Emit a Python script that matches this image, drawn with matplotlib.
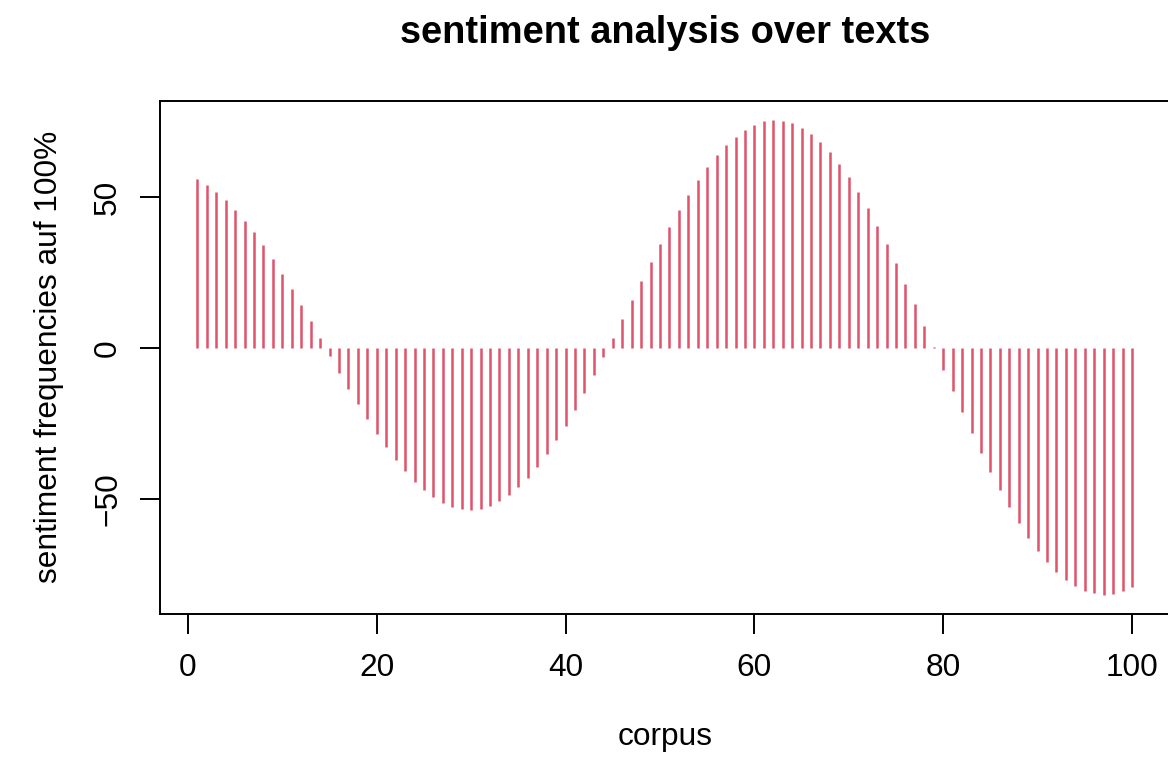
import numpy as np
import matplotlib
matplotlib.use("Agg")
import matplotlib.pyplot as plt

plt.rcParams['font.family'] = ['Liberation Sans', 'DejaVu Sans']

# sentiment score per text in the corpus
corpus = np.arange(1, 101)
sentiment = np.array([
    55.9, 54.1, 51.7, 48.9, 45.7, 42.2, 38.3, 34.0, 29.4, 24.5,
    19.4, 14.1, 8.8, 3.2, -2.5, -8.1, -13.4, -18.5, -23.6, -28.4,
    -32.9, -37.0, -40.7, -44.2, -46.9, -49.3, -51.3, -52.5, -53.3, -53.5,
    -53.2, -52.2, -50.8, -48.7, -46.1, -42.9, -39.3, -35.2, -30.6, -25.7,
    -20.4, -14.9, -9.0, -3.1, 3.4, 9.7, 16.0, 22.2, 28.4, 34.3,
    40.1, 45.6, 50.7, 55.5, 59.8, 63.8, 67.2, 70.0, 72.3, 73.9,
    75.1, 75.5, 75.3, 74.4, 72.9, 70.9, 68.2, 64.8, 60.9, 56.5,
    51.7, 46.3, 40.5, 34.4, 28.0, 21.3, 14.5, 7.4, 0.3, -7.3,
    -14.3, -21.3, -28.1, -34.8, -41.1, -47.1, -52.7, -58.0, -62.8, -67.1,
    -70.9, -74.1, -76.7, -78.9, -80.4, -81.2, -81.6, -81.4, -80.5, -79.1,
])
xticks = [0, 20, 40, 60, 80, 100]
yticks = [-50, 0, 50]

fig = plt.figure(figsize=(11.68, 7.68), dpi=100)
ax = fig.add_axes([160 / 1168, 1 - 613.5 / 768, 1009.4 / 1168, 512.5 / 768])

# histogram-like spikes from zero, as in R's type = "h"
ax.vlines(corpus, 0, sentiment, colors='#DF536B', linewidth=1.8)

# R style 4% padding around the data range
def padded(lo, hi):
    d = (hi - lo) * 0.04
    return lo - d, hi + d

ax.set_xlim(*padded(corpus.min(), corpus.max()))
ax.set_ylim(*padded(sentiment.min(), sentiment.max()))

ax.set_xticks(xticks)
ax.set_yticks(yticks)
ax.set_xticklabels([str(t) for t in xticks])
ax.set_yticklabels(['\u2212' + str(-t) if t < 0 else str(t) for t in yticks])
ax.tick_params(axis='both', direction='out', length=14.5, width=1.4,
               labelsize=22.8, colors='black')
ax.tick_params(axis='x', pad=14)
ax.tick_params(axis='y', pad=12)
for lab in ax.get_yticklabels():
    lab.set_rotation(90)
    lab.set_va('center')

for sp in ax.spines.values():
    sp.set_linewidth(1.4)
    sp.set_color('black')

ax.set_title('sentiment analysis over texts', fontsize=27.4,
             fontweight='bold', pad=42)
ax.set_xlabel('corpus', fontsize=22.8)
ax.set_ylabel('sentiment frequencies auf 100%', fontsize=22.8)
ax.xaxis.set_label_coords(0.5, -0.241)
ax.xaxis.label.set_va('center')
ax.yaxis.set_label_coords(-0.11, 0.5)
ax.yaxis.label.set_va('center')

fig.savefig('out.png', dpi=100)
